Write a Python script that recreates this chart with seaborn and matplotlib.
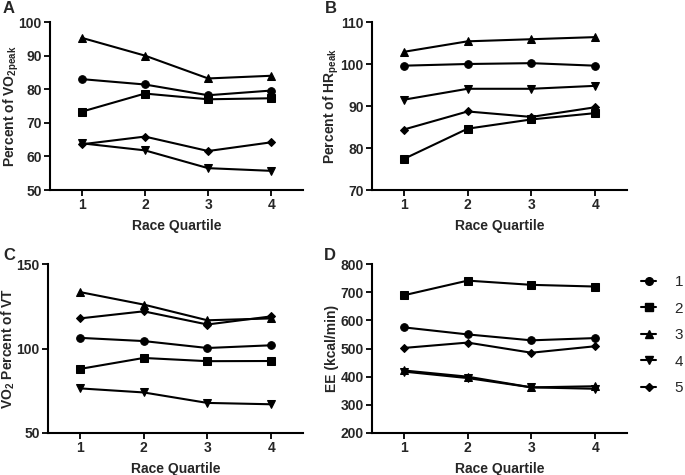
import matplotlib
matplotlib.use("Agg")
import matplotlib.pyplot as plt
import seaborn as sns
import pandas as pd
from matplotlib.lines import Line2D

sns.set_theme(style="ticks")
plt.rcParams['font.family'] = ['Liberation Sans', 'DejaVu Sans']
plt.rcParams['mathtext.fontset'] = 'custom'
plt.rcParams['mathtext.rm'] = 'Liberation Sans'
plt.rcParams['mathtext.bf'] = 'Liberation Sans:bold'
plt.rcParams['mathtext.it'] = 'Liberation Sans:italic'

quartiles = [1, 2, 3, 4]
groups = ["1", "2", "3", "4", "5"]

vo2peak = {
    "1": [83.0, 81.4, 78.2, 79.6],
    "2": [73.3, 78.7, 77.0, 77.3],
    "3": [95.3, 90.0, 83.2, 84.0],
    "4": [63.9, 61.8, 56.5, 55.7],
    "5": [63.6, 65.9, 61.6, 64.2],
}
hrpeak = {
    "1": [99.6, 100.0, 100.2, 99.6],
    "2": [77.4, 84.6, 86.8, 88.3],
    "3": [102.9, 105.4, 105.9, 106.4],
    "4": [91.5, 94.1, 94.1, 94.8],
    "5": [84.4, 88.7, 87.4, 89.7],
}
vo2vt = {
    "1": [106.3, 104.4, 100.3, 101.9],
    "2": [87.9, 94.4, 92.5, 92.6],
    "3": [133.4, 126.0, 116.7, 117.8],
    "4": [76.4, 74.0, 67.8, 67.0],
    "5": [117.8, 122.0, 114.2, 119.0],
}
ee = {
    "1": [575, 550, 529, 537],
    "2": [689, 741, 726, 720],
    "3": [422, 400, 362, 366],
    "4": [418, 395, 362, 357],
    "5": [502, 521, 485, 508],
}

markers = {"1": "o", "2": "s", "3": "^", "4": "v", "5": "D"}
sizes = {"1": 5.5, "2": 5.5, "3": 5.8, "4": 5.8, "5": 3.8}

def to_df(d):
    rows = []
    for g in groups:
        for q, v in zip(quartiles, d[g]):
            rows.append({"Quartile": q, "Value": v, "Group": g})
    return pd.DataFrame(rows)

fig = plt.figure(figsize=(6.85, 4.75), dpi=100)
W, H = 685, 475
def ax_at(l, t, r, b):
    return fig.add_axes([l / W, 1 - b / H, (r - l) / W, (b - t) / H])

axA = ax_at(50, 22, 303, 190)
axB = ax_at(372, 22, 627, 190)
axC = ax_at(48, 264, 303, 433)
axD = ax_at(372, 264, 627, 433)

specs = [
    (axA, vo2peak, (50, 100), [50, 60, 70, 80, 90, 100], r'Percent of VO$_\mathbf{2peak}$', "A", (3, 13), -0.115),
    (axB, hrpeak, (70, 110), [70, 80, 90, 100, 110], r'Percent of HR$_\mathbf{peak}$', "B", (325, 13), -0.12),
    (axC, vo2vt, (50, 150), [50, 100, 150], r'VO$_\mathbf{2}$ Percent of VT', "C", (3, 260), -0.12),
    (axD, ee, (200, 800), [200, 300, 400, 500, 600, 700, 800], 'EE (kcal/min)', "D", (324, 260), -0.13),
]

for ax, d, ylim, yt, ylab, letter, lpos, ylx in specs:
    df = to_df(d)
    for g in groups:
        sub = df[df["Group"] == g]
        sns.lineplot(data=sub, x="Quartile", y="Value", ax=ax, color="black",
                     marker=markers[g], markersize=sizes[g], linewidth=1.5,
                     markeredgecolor="black", legend=False)
    ax.set_xlim(0.5, 4.5)
    ax.set_ylim(*ylim)
    ax.set_xticks(quartiles)
    ax.set_yticks(yt)
    ax.set_xlabel("Race Quartile", fontsize=10, fontweight="bold", labelpad=5)
    ax.set_ylabel(ylab, fontsize=10, fontweight="bold")
    ax.yaxis.set_label_coords(ylx, 0.5)
    for lbl in ax.get_xticklabels() + ax.get_yticklabels():
        lbl.set_fontweight("bold")
        lbl.set_fontsize(10)
    ax.tick_params(direction="out", length=4, width=1.3, color="black", pad=2)
    for s in ["top", "right"]:
        ax.spines[s].set_visible(False)
    for s in ["left", "bottom"]:
        ax.spines[s].set_linewidth(1.5)
        ax.spines[s].set_color("black")
    fig.text(lpos[0] / W, 1 - lpos[1] / H, letter, fontsize=12, fontweight="bold",
             ha="left", va="baseline")

handles = [Line2D([0], [0], color="black", lw=1.5, marker=markers[g],
                  markersize=sizes[g]) for g in groups]
fig.legend(handles, groups, loc="upper left", bbox_to_anchor=(641 / W, 1 - 275 / H),
           frameon=False, fontsize=11, handlelength=1.0, labelspacing=0.82,
           handletextpad=1.2, borderaxespad=0, borderpad=0)

fig.savefig("out.png", dpi=100)
